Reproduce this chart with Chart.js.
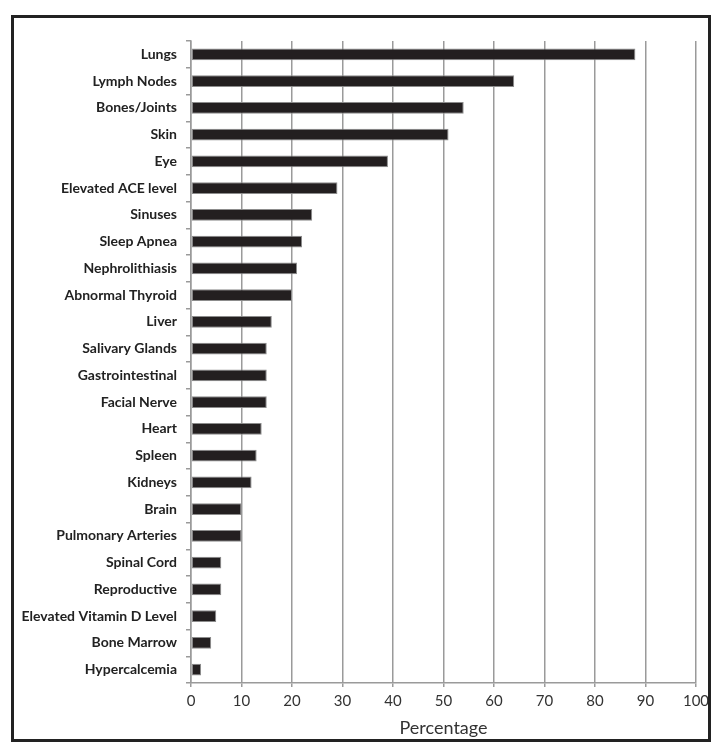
<!DOCTYPE html>
<html>
<head>
<meta charset="utf-8">
<script src="https://cdn.jsdelivr.net/npm/chart.js@4/dist/chart.umd.min.js"></script>
<style>
  html, body { margin: 0; padding: 0; background: #fff; }
  #frame {
    position: absolute; left: 11px; top: 15px;
    width: 694px; height: 721px;
    border: 3px solid #222;
    background: #fff;
  }
  #wrap { position: absolute; left: 0; top: 0; width: 694px; height: 721px; }
</style>
</head>
<body>
<div id="frame"><div id="wrap"><canvas id="c"></canvas></div></div>
<script>
const categories = [
  "Lungs", "Lymph Nodes", "Bones/Joints", "Skin", "Eye", "Elevated ACE level",
  "Sinuses", "Sleep Apnea", "Nephrolithiasis", "Abnormal Thyroid", "Liver",
  "Salivary Glands", "Gastrointestinal", "Facial Nerve", "Heart", "Spleen",
  "Kidneys", "Brain", "Pulmonary Arteries", "Spinal Cord", "Reproductive",
  "Elevated Vitamin D Level", "Bone Marrow", "Hypercalcemia"
];
const percentages = [88, 64, 54, 51, 39, 29, 24, 22, 21, 20, 16, 15, 15, 15, 14, 13, 12, 10, 10, 6, 6, 5, 4, 2];
const xTicks = [0, 10, 20, 30, 40, 50, 60, 70, 80, 90, 100];
const xTitle = "Percentage";

new Chart(document.getElementById('c'), {
  type: 'bar',
  data: {
    labels: categories,
    datasets: [{
      data: percentages,
      backgroundColor: '#231f20',
      borderColor: '#8c8c8c',
      borderWidth: 1,
      borderSkipped: false,
      barPercentage: 0.86,
      categoryPercentage: 0.5
    }]
  },
  options: {
    indexAxis: 'y',
    responsive: true,
    maintainAspectRatio: false,
    animation: false,
    layout: { padding: { top: 23, right: 0, left: 0, bottom: 0 } },
    plugins: { legend: { display: false }, tooltip: { enabled: false } },
    scales: {
      x: {
        min: xTicks[0], max: xTicks[xTicks.length - 1],
        afterBuildTicks: (s) => { s.ticks = xTicks.map(v => ({ value: v })); },
        grid: { color: '#9a9a9a', lineWidth: 1.5, tickLength: 4 },
        border: { color: '#9a9a9a', width: 1.5 },
        ticks: { color: '#333', font: { family: 'Lato', size: 15 }, padding: 5, maxRotation: 0 },
        title: { display: true, text: xTitle, color: '#333', font: { family: 'Lato', size: 18 }, padding: { top: 3, bottom: 0 } },
        afterFit: (s) => { s.height = 56; s.paddingRight = 12; s.paddingLeft = 0; }
      },
      y: {
        grid: { offset: true, drawOnChartArea: false, color: '#9a9a9a', lineWidth: 1.5, tickLength: 5 },
        border: { color: '#9a9a9a', width: 1.5 },
        ticks: { color: '#222', font: { family: 'Lato', size: 14, weight: 'bold' }, padding: 9, autoSkip: false },
        afterFit: (s) => { s.width = 177; s.paddingTop = 0; s.paddingBottom = 0; }
      }
    }
  }
});
</script>
</body>
</html>
